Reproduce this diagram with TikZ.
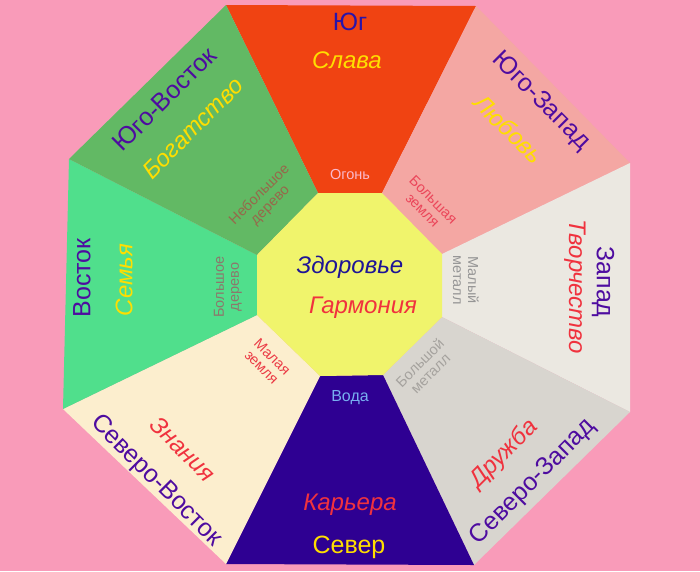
\documentclass[tikz,border=0pt]{standalone}
\usepackage{fontspec}
\setmainfont{Liberation Sans}
\definecolor{bgpink}{RGB}{249,155,185}
\definecolor{southred}{RGB}{240,67,18}
\definecolor{swsalmon}{RGB}{244,167,163}
\definecolor{westgray}{RGB}{235,232,225}
\definecolor{nwgray}{RGB}{216,213,207}
\definecolor{northblue}{RGB}{46,0,146}
\definecolor{necream}{RGB}{252,238,206}
\definecolor{eastgreen}{RGB}{80,223,140}
\definecolor{segreen}{RGB}{98,185,100}
\definecolor{midyellow}{RGB}{240,244,108}
\definecolor{dirpurple}{RGB}{78,12,160}
\definecolor{dirblue}{RGB}{40,20,170}
\definecolor{goldtext}{RGB}{255,222,0}
\definecolor{redtext}{RGB}{240,50,62}
\definecolor{healthblue}{RGB}{30,20,150}

\begin{document}
\begin{tikzpicture}[x=1pt,y=-1pt,
		dirtext/.style={font=\fontsize{25}{27}\selectfont, text=dirpurple, inner sep=0pt},
		quality/.style={font=\fontsize{24}{26}\selectfont\itshape, inner sep=0pt},
		element/.style={font=\fontsize{14.5}{15}\selectfont, align=center, inner sep=0pt}]
			\fill[bgpink] (0, 0) rectangle (700, 571);
			
			\coordinate(O1) at (226, 5);
			\coordinate(O2) at (476, 6);
			\coordinate(O3) at (630, 163);
			\coordinate(O4) at (630, 412);
			\coordinate(O5) at (474, 565);
			\coordinate(O6) at (226, 564);
			\coordinate(O7) at (63, 409);
			\coordinate(O8) at (69, 159);
			
			\coordinate(I1) at (318, 193);
			\coordinate(I2) at (382, 193);
			\coordinate(I3) at (442, 254);
			\coordinate(I4) at (442, 317);
			\coordinate(I5) at (383, 375);
			\coordinate(I6) at (320, 376);
			\coordinate(I7) at (257, 315);
			\coordinate(I8) at (257, 255);
			
			\fill[southred] (O1)--(O2)--(I2)--(I1)--cycle;
			\fill[swsalmon] (O2)--(O3)--(I3)--(I2)--cycle;
			\fill[westgray] (O3)--(O4)--(I4)--(I3)--cycle;
			\fill[nwgray] (O4)--(O5)--(I5)--(I4)--cycle;
			\fill[northblue] (O5)--(O6)--(I6)--(I5)--cycle;
			\fill[necream] (O6)--(O7)--(I7)--(I6)--cycle;
			\fill[eastgreen] (O7)--(O8)--(I8)--(I7)--cycle;
			\fill[segreen] (O8)--(O1)--(I1)--(I8)--cycle;
			\fill[midyellow] (I1)--(I2)--(I3)--(I4)--(I5)--(I6)--(I7)--(I8)--cycle;
			
			\node[dirtext, text=dirblue] (yug) at (350, 22) {Юг};
			\node[quality, text=goldtext] (slava) at (347, 60) {Слава};
			\node[element, text={rgb,255:red,250;green,185;blue,205}] (ogon) at (350, 175) {Огонь};
			
			\node[dirtext, rotate=-45] (yugozapad) at (541, 101) {Юго-Запад};
			\node[quality, rotate=-45, text=goldtext] (lyubov) at (509, 129) {Любовь};
			\node[element, rotate=-45, text={rgb,255:red,235;green,70;blue,90}] (bzemlya) at (428, 205) {Большая\\земля};
			
			\node[dirtext, rotate=-90] (zapad) at (603, 282) {Запад};
			\node[quality, rotate=-90, text=redtext] (tvorch) at (575, 287) {Творчество};
			\node[element, rotate=-90, text={rgb,255:red,150;green,150;blue,150}] (mmetall) at (466, 280) {Малый\\металл};
			
			\node[dirtext, rotate=45] (severozapad) at (533, 482) {Северо-Запад};
			\node[quality, rotate=45, text=redtext] (druzhba) at (504, 454) {Дружба};
			\node[element, rotate=45, text={rgb,255:red,165;green,162;blue,158}] (bmetall) at (425, 368) {Большой\\металл};
			
			\node[dirtext, text=goldtext] (sever) at (349, 547) {Север};
			\node[quality, text=redtext] (karera) at (350, 505) {Карьера};
			\node[element, font=\fontsize{16}{17}\selectfont, text={rgb,255:red,120;green,175;blue,240}] (voda) at (350, 398) {Вода};
			
			\node[dirtext, rotate=-45] (severovostok) at (156, 481) {Северо-Восток};
			\node[quality, rotate=-45, text=redtext] (znaniya) at (183, 449) {Знания};
			\node[element, rotate=-45, text={rgb,255:red,235;green,60;blue,70}] (mzemlya) at (267, 362) {Малая\\земля};
			
			\node[dirtext, rotate=90] (vostok) at (82, 278) {Восток};
			\node[quality, rotate=90, text=goldtext] (semya) at (124, 280) {Семья};
			\node[element, rotate=90, text={rgb,255:red,140;green,120;blue,108}] (bderevo) at (228, 287) {Большое\\дерево};
			
			\node[dirtext, rotate=45] (yugovostok) at (164, 99) {Юго-Восток};
			\node[quality, rotate=45, text=goldtext] (bogatstvo) at (193, 128) {Богатство};
			\node[element, rotate=45, text={rgb,255:red,150;green,105;blue,75}] (nderevo) at (265, 200) {Небольшое\\дерево};
			
			\node[quality, text=healthblue] (zdorove) at (350, 267) {Здоровье};
			\node[quality, text=redtext] (garmoniya) at (363, 308) {Гармония};
		\end{tikzpicture}
\end{document}
